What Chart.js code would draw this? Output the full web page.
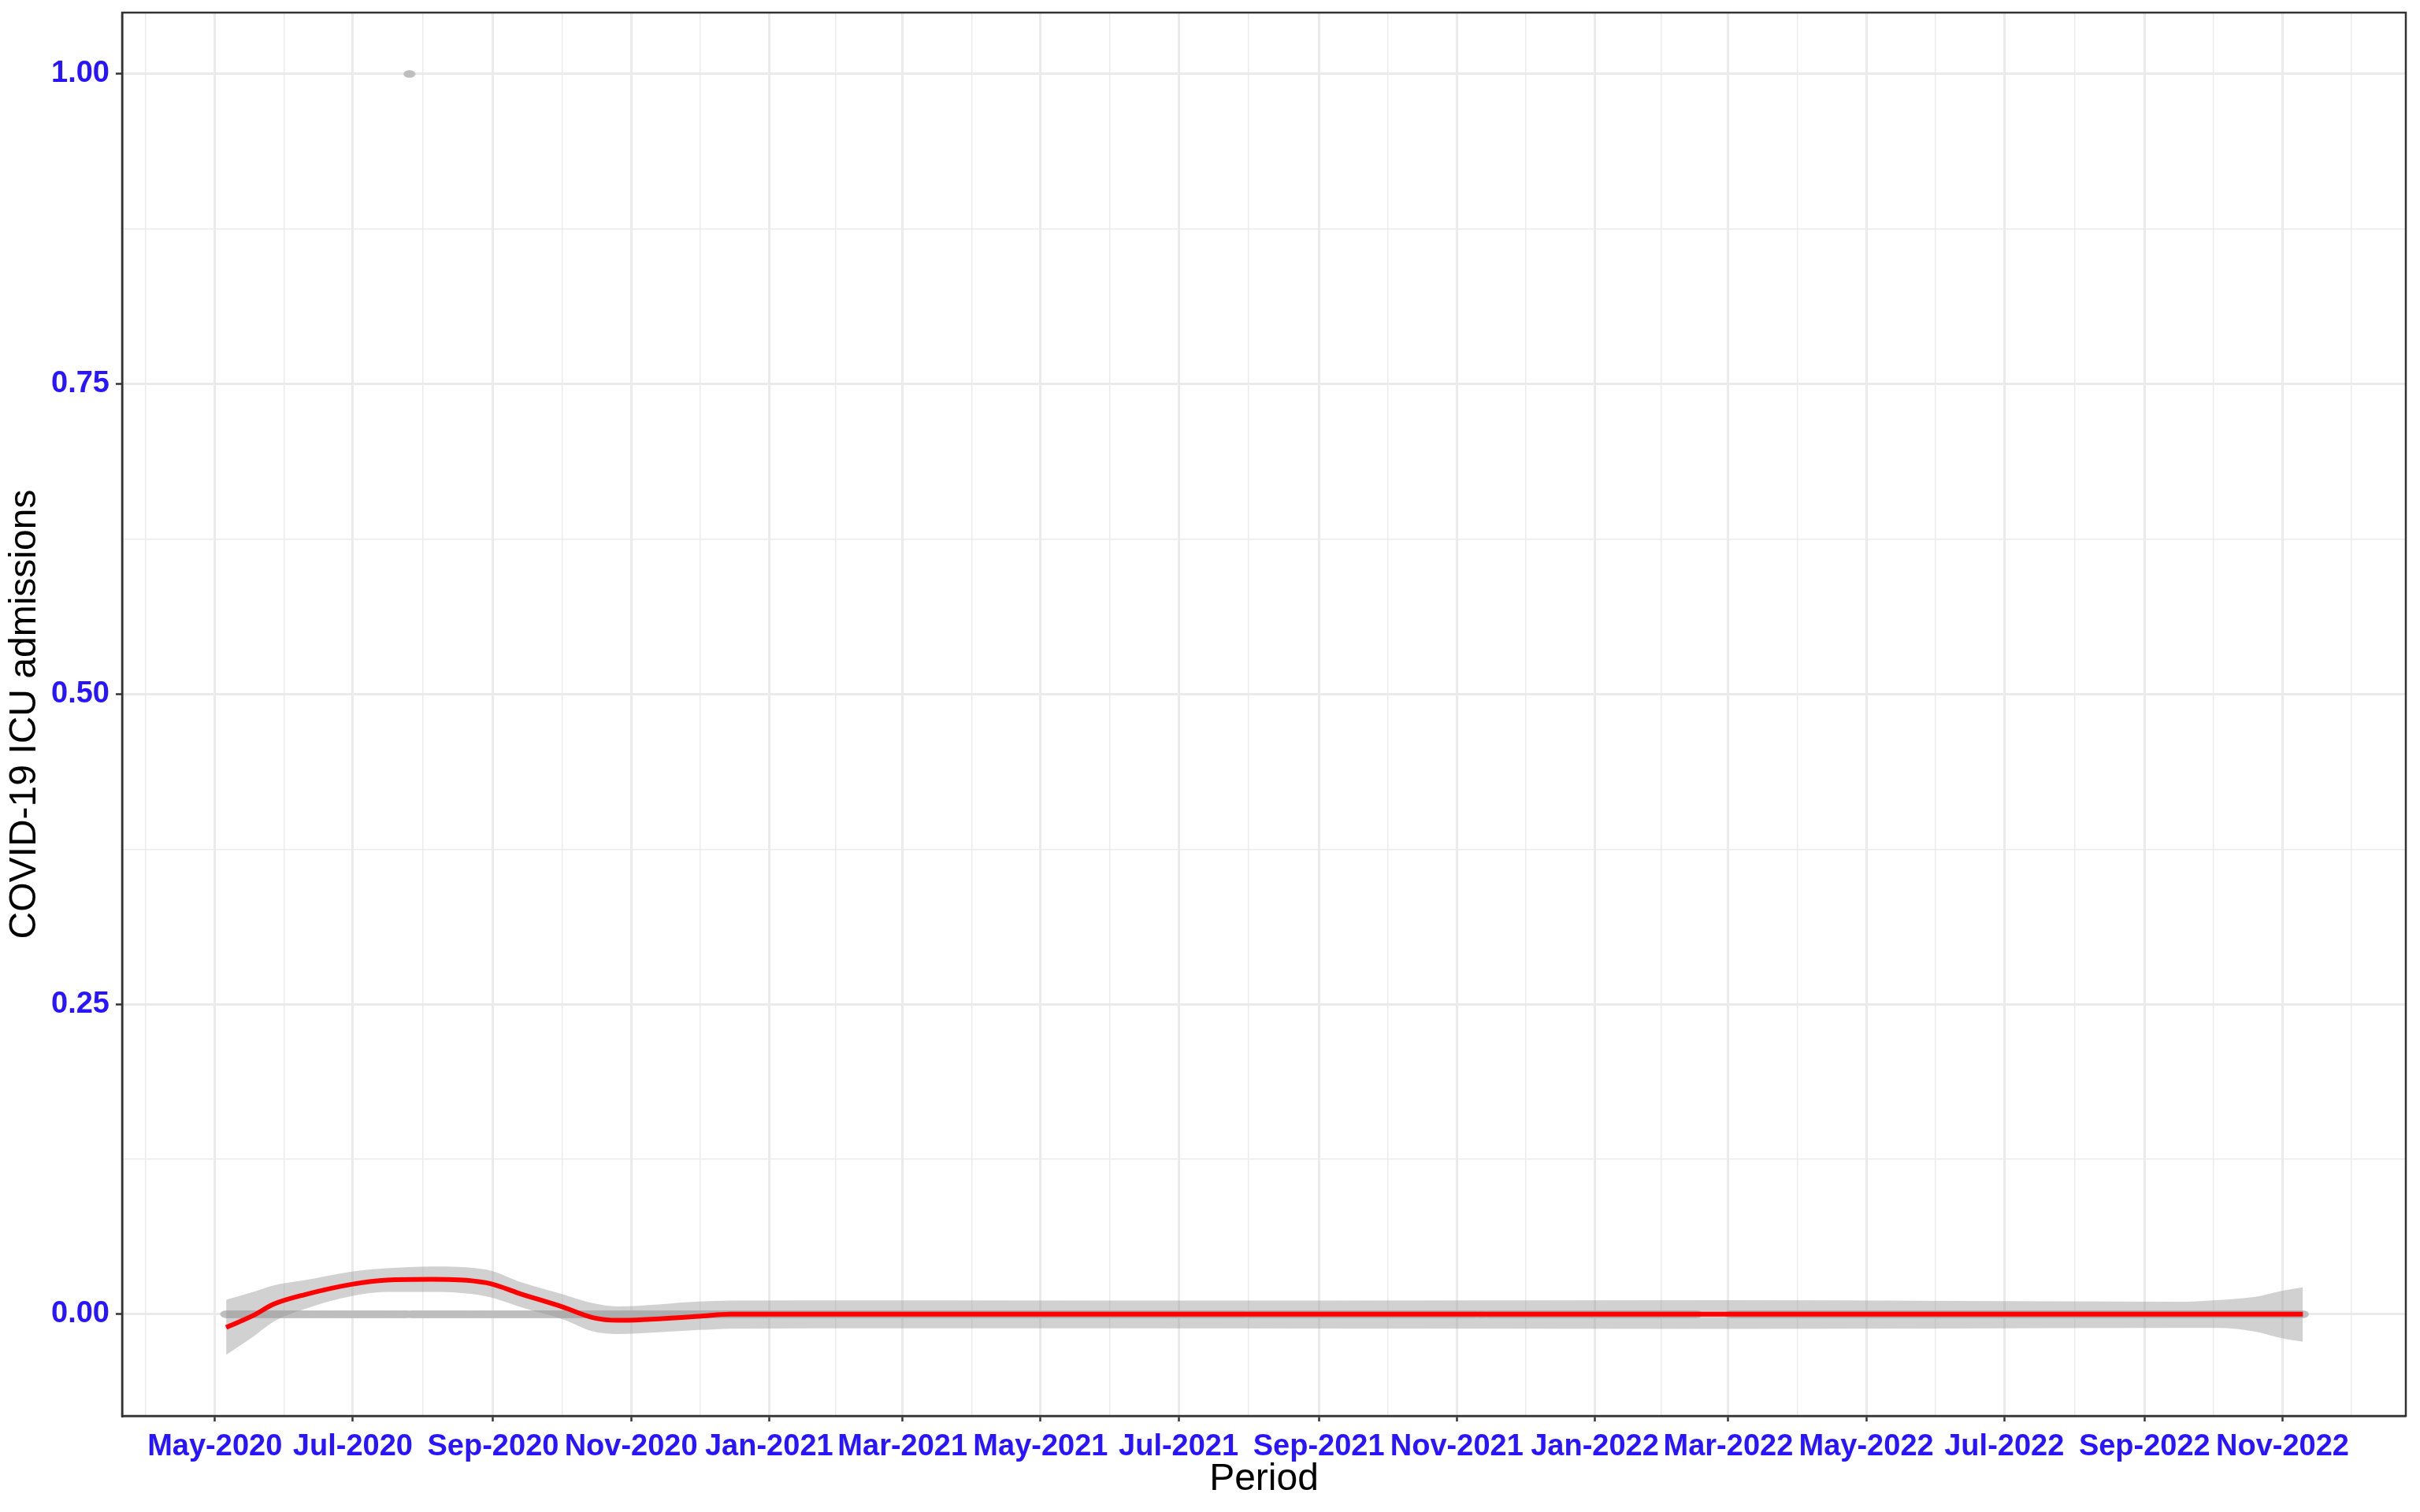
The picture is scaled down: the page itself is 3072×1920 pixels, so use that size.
<!DOCTYPE html>
<html>
<head>
<meta charset="utf-8">
<script src="https://cdn.jsdelivr.net/npm/chart.js@4.4.1/dist/chart.umd.min.js"></script>
<style>
  html, body { margin: 0; padding: 0; background: #fff; }
  #wrap { width: 3072px; height: 1920px; }
</style>
</head>
<body>
<div id="wrap"><canvas id="icuChart" width="3072" height="1920"></canvas></div>
<script>
// daily observations: runs of days with 0 admissions, plus the single day with 1
const zeroStart = ['2020-05-06', '2020-07-27', '2021-08-01', '2021-11-11', '2021-11-15', '2022-03-02'];
const zeroEnd   = ['2020-07-25', '2021-07-30', '2021-11-09', '2021-11-13', '2022-02-15', '2022-11-10'];
const oneDates  = ['2020-07-26'];
const oneValues = [1];

// loess curve
const smoothDates  = ['2020-05-06', '2020-05-18', '2020-05-27', '2020-06-10', '2020-07-01', '2020-07-16',
                      '2020-08-05', '2020-08-29', '2020-09-14', '2020-10-02', '2020-10-15', '2020-10-26',
                      '2020-12-01', '2020-12-15', '2022-11-10'];
const smoothValues = [-0.0106, -0.001, 0.0081, 0.0159, 0.0243, 0.0275,
                      0.0281, 0.0254, 0.0159, 0.0057, -0.0027, -0.0049,
                      -0.0017, 0, 0];

// confidence band
const ribbonDates = ['2020-05-06', '2020-05-18', '2020-05-27', '2020-06-10', '2020-07-01', '2020-07-16',
                     '2020-08-05', '2020-08-29', '2020-09-14', '2020-10-02', '2020-10-15', '2020-10-26',
                     '2020-12-01', '2020-12-15', '2021-03-01', '2021-09-01', '2022-03-01', '2022-09-15',
                     '2022-10-03', '2022-10-20', '2022-11-01', '2022-11-10'];
const ribbonUpper = [0.0116, 0.018, 0.0233, 0.0275, 0.0345, 0.037,
                     0.0385, 0.036, 0.0254, 0.0159, 0.0089, 0.0063,
                     0.0102, 0.011, 0.0112, 0.011, 0.0113, 0.0101,
                     0.0114, 0.014, 0.019, 0.0216];
const ribbonLower = [-0.0328, -0.018, -0.0059, 0.0044, 0.0148, 0.018,
                     0.018, 0.0144, 0.0053, -0.0042, -0.0138, -0.0159,
                     -0.0127, -0.0116, -0.0114, -0.0115, -0.0118, -0.011,
                     -0.011, -0.014, -0.0195, -0.0222];

const xTickLabels = ['May-2020', 'Jul-2020', 'Sep-2020', 'Nov-2020', 'Jan-2021', 'Mar-2021', 'May-2021', 'Jul-2021',
                     'Sep-2021', 'Nov-2021', 'Jan-2022', 'Mar-2022', 'May-2022', 'Jul-2022', 'Sep-2022', 'Nov-2022'];
const yTickValues = [0, 0.25, 0.5, 0.75, 1];

const MONTHS = ['Jan', 'Feb', 'Mar', 'Apr', 'May', 'Jun', 'Jul', 'Aug', 'Sep', 'Oct', 'Nov', 'Dec'];

function day(s) {
    const p = s.split('-').map(Number);
    return Date.UTC(p[0], p[1] - 1, p[2]) / 864e5;
}
function labelDay(lbl) {
    const [m, y] = lbl.split('-');
    return Date.UTC(Number(y), MONTHS.indexOf(m), 1) / 864e5;
}

// points
const pointData = [];
zeroStart.forEach((s, i) => {
    for (let d = day(s); d <= day(zeroEnd[i]); d++) pointData.push({ x: d, y: 0 });
});
oneDates.forEach((s, i) => pointData.push({ x: day(s), y: oneValues[i] }));

const smoothData = smoothDates.map((s, i) => ({ x: day(s), y: smoothValues[i] }));
const upperData = ribbonDates.map((s, i) => ({ x: day(s), y: ribbonUpper[i] }));
const lowerData = ribbonDates.map((s, i) => ({ x: day(s), y: ribbonLower[i] }));

// axis ticks: majors from labels, minors half way between
const xMin = day('2020-03-21'), xMax = day('2022-12-25') + 0.5;
const xMajor = xTickLabels.map(labelDay);
const xLabelAt = {};
xMajor.forEach((v, i) => { xLabelAt[v] = xTickLabels[i]; });
const xExt = [Date.UTC(2020, 2, 1) / 864e5].concat(xMajor, [Date.UTC(2023, 0, 1) / 864e5]);
const xMinor = [];
for (let i = 0; i < xExt.length - 1; i++) xMinor.push((xExt[i] + xExt[i + 1]) / 2);
const xAll = xMajor.concat(xMinor).filter(v => v >= xMin && v <= xMax).sort((a, b) => a - b);

const yMin = -0.082, yMax = 1.0495;
const yMinor = [];
for (let i = 0; i < yTickValues.length - 1; i++) yMinor.push((yTickValues[i] + yTickValues[i + 1]) / 2);
const yAll = yTickValues.concat(yMinor).sort((a, b) => a - b);

function isMajorX(v) { return xLabelAt[v] !== undefined; }
function isMajorY(v) { return yTickValues.includes(v); }

// grey ellipse used as point marker
function makeDot() {
    const c = document.createElement('canvas');
    c.width = 16; c.height = 10;
    const g = c.getContext('2d');
    g.fillStyle = '#BEBEBE';
    g.beginPath();
    g.ellipse(8, 5, 7.6, 4.8, 0, 0, Math.PI * 2);
    g.fill();
    return c;
}

const panelBorder = {
    id: 'panelBorder',
    afterDraw(chart) {
        const a = chart.chartArea, c = chart.ctx;
        c.save();
        c.strokeStyle = '#333333';
        c.lineWidth = 2.5;
        c.strokeRect(a.left, a.top, a.right - a.left, a.bottom - a.top);
        c.restore();
    }
};

const tickFont = { family: 'Liberation Sans, Arial, sans-serif', size: 38, weight: 'bold' };
const titleFont = { family: 'Liberation Sans, Arial, sans-serif', size: 48 };

new Chart(document.getElementById('icuChart'), {
    type: 'line',
    data: {
        datasets: [
            {
                label: 'obs',
                data: pointData,
                showLine: false,
                pointStyle: makeDot(),
                pointRadius: 5,
                order: 3
            },
            {
                label: 'upper',
                data: upperData,
                borderWidth: 0,
                pointRadius: 0,
                cubicInterpolationMode: 'monotone',
                fill: '+1',
                backgroundColor: 'rgba(153,153,153,0.45)',
                order: 2
            },
            {
                label: 'lower',
                data: lowerData,
                borderWidth: 0,
                pointRadius: 0,
                cubicInterpolationMode: 'monotone',
                fill: false,
                order: 2
            },
            {
                label: 'smooth',
                data: smoothData,
                borderColor: '#FF0000',
                borderWidth: 6,
                pointRadius: 0,
                cubicInterpolationMode: 'monotone',
                fill: false,
                order: 1
            }
        ]
    },
    options: {
        responsive: false,
        animation: false,
        devicePixelRatio: 1,
        layout: { padding: { left: 0, top: 16, right: 18, bottom: 0 } },
        plugins: { legend: { display: false }, tooltip: { enabled: false } },
        scales: {
            x: {
                type: 'linear',
                min: xMin,
                max: xMax,
                afterBuildTicks: s => { s.ticks = xAll.map(v => ({ value: v })); },
                afterFit: s => { s.height = 122; s.paddingLeft = 0; s.paddingRight = 0; },
                ticks: {
                    autoSkip: false,
                    maxRotation: 0,
                    padding: 10,
                    color: '#2814FF',
                    font: tickFont,
                    callback: v => xLabelAt[v] || ''
                },
                grid: {
                    color: '#EBEBEB',
                    lineWidth: c => (c.tick && isMajorX(c.tick.value)) ? 3 : 1.5,
                    tickColor: c => (c.tick && isMajorX(c.tick.value)) ? '#333333' : 'rgba(0,0,0,0)',
                    tickWidth: 2.5,
                    tickLength: 7
                },
                border: { display: true, color: '#333333', width: 2.5 },
                title: { display: true, text: 'Period', color: '#000', font: titleFont, padding: { top: 0, bottom: 12 } }
            },
            y: {
                type: 'linear',
                min: yMin,
                max: yMax,
                afterBuildTicks: s => { s.ticks = yAll.map(v => ({ value: v })); },
                afterFit: s => { s.width = 155; s.paddingTop = 0; s.paddingBottom = 0; },
                ticks: {
                    padding: 8,
                    color: '#2814FF',
                    font: tickFont,
                    callback: v => isMajorY(v) ? v.toFixed(2) : ''
                },
                grid: {
                    color: '#EBEBEB',
                    lineWidth: c => (c.tick && isMajorY(c.tick.value)) ? 3 : 1.5,
                    tickColor: c => (c.tick && isMajorY(c.tick.value)) ? '#333333' : 'rgba(0,0,0,0)',
                    tickWidth: 2.5,
                    tickLength: 8
                },
                border: { display: true, color: '#333333', width: 2.5 },
                title: { display: true, text: 'COVID-19 ICU admissions', color: '#000', font: titleFont, padding: { top: 3, bottom: 0 } }
            }
        }
    },
    plugins: [panelBorder]
});
</script>
</body>
</html>
